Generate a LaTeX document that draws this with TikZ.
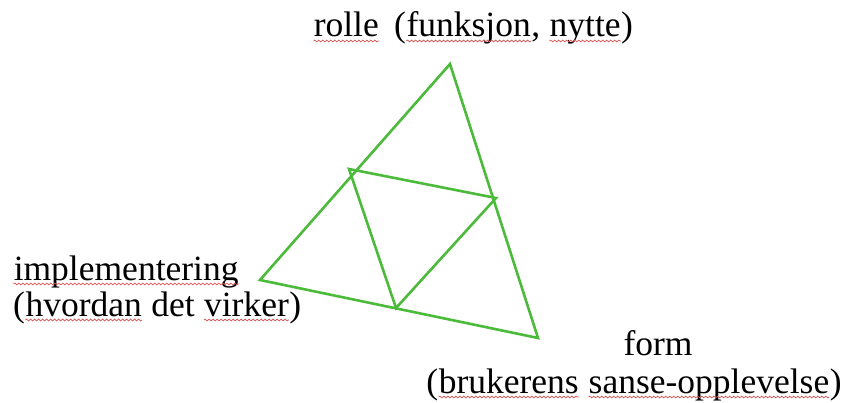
\documentclass[tikz,border=0pt]{standalone}
\usepackage{fontspec}
\setmainfont{Liberation Serif}
\usepackage{tikz}
\usetikzlibrary{decorations.pathmorphing}
\definecolor{trigreen}{RGB}{76,186,58}
\definecolor{spellred}{RGB}{214,80,80}
\tikzset{wavy/.style={spellred,line width=.7pt,decorate,
  decoration={snake,segment length=4pt,amplitude=.9pt}}}
\newcommand\spell[1]{\tikz[baseline=0pt]{\node[inner sep=0pt,anchor=base west](w) at (0,0){#1};
  \draw[wavy]([yshift=-4pt]w.base west)--([yshift=-4pt]w.base east);}}

\begin{document}
\begin{tikzpicture}[x=1pt,y=-1pt,font=\fontsize{35.5}{36}\selectfont,
      t/.style={inner sep=0pt},
      g/.style={trigreen,line width=2.6pt}]
      \useasboundingbox (0,0) rectangle (845,403);
      % outer triangle
      \coordinate (top) at (450,64);
      \coordinate (left) at (260,280);
      \coordinate (right) at (538,338);
      % inner triangle
      \coordinate (il) at (349,169);
      \coordinate (ir) at (496,198);
      \coordinate (ib) at (396,308);
      \draw[g] (top)--(left)--(right)--cycle;
      \draw[g] (il)--(ir)--(ib)--cycle;
      % labels
      \node[t,anchor=base west] (rolle) at (313,37) {\spell{rolle}\hspace{6pt} (\spell{funksjon}, \spell{nytte})};
      \node[t,anchor=base west,align=left] (impl) at (13,316) {\spell{implementering}\\(\spell{hvordan} det \spell{virker})};
      \node[t,anchor=base] (form) at (658,355) {form};
      \node[t,anchor=base] (sanse) at (634,393) {(\spell{brukerens} \spell{sanse-opplevelse})};
    \end{tikzpicture}
\end{document}
